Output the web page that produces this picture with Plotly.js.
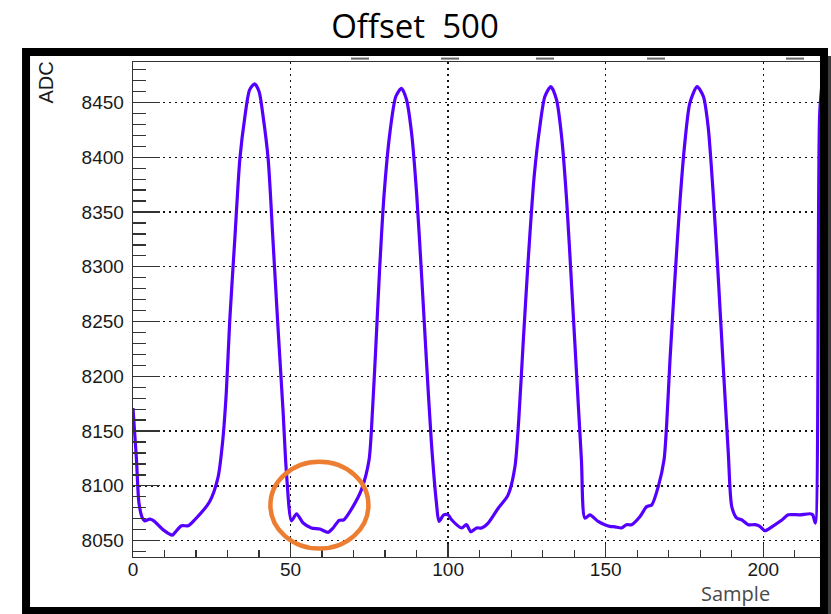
<!DOCTYPE html>
<html>
<head>
<meta charset="utf-8">
<script src="https://cdn.plot.ly/plotly-3.0.1.min.js"></script>
<style>html,body{margin:0;padding:0;background:#fff;}#chart{width:831px;height:614px;}</style>
</head>
<body>
<div id="chart"></div>
<script>
// Waveform samples
const sampleX = [0, 1.1, 1.9, 3.0, 3.7, 5.3, 6.6, 9.5, 12.5, 13.2, 15.4, 17.5, 19.6, 24.3, 27.0, 28.4, 29.6, 30.7, 32.3, 33.9, 35.5, 37.0, 38.6, 40.0, 41.3, 42.9, 44.4, 46.0, 47.6, 48.7, 50.3, 51.9, 54.0, 56.6, 59.3, 61.9, 63.5, 65.4, 66.9, 69.8, 72.5, 74.9, 76.0, 77.0, 78.3, 79.7, 81.5, 83.4, 85.2, 86.8, 88.4, 90.0, 91.6, 93.1, 94.7, 96.3, 97.1, 98.6, 100.0, 101.1, 104.3, 105.8, 107.2, 109.0, 110.6, 112.7, 115.9, 119.0, 121.2, 122.4, 123.8, 125.4, 127.3, 129.1, 130.7, 132.6, 134.4, 136.0, 137.6, 139.2, 140.8, 142.3, 143.4, 145.0, 147.6, 149.7, 151.3, 153.0, 155.0, 156.6, 158.2, 160.9, 163.0, 164.6, 166.7, 168.5, 169.3, 170.4, 172.0, 173.6, 175.1, 176.7, 179.0, 181.0, 182.5, 184.1, 185.7, 187.3, 188.9, 190.0, 191.6, 193.1, 195.2, 197.4, 198.9, 200.5, 203.2, 205.8, 207.9, 211.6, 214.8, 215.7, 216.5, 217.9, 218.9];
const adcY = [8171, 8124, 8084, 8070.5, 8068, 8069.5, 8068, 8060, 8055, 8057, 8063.5, 8063.5, 8069, 8085.5, 8108, 8139, 8185, 8251, 8325, 8398, 8437, 8461.5, 8467, 8460, 8437, 8398, 8325, 8245, 8169, 8111.5, 8068, 8074.5, 8066, 8061.5, 8060.5, 8057.5, 8061.5, 8068.5, 8069, 8081, 8096.5, 8123.5, 8169, 8224, 8300, 8367, 8422, 8455.5, 8463, 8452.5, 8422, 8367, 8291, 8215, 8139, 8084, 8067.5, 8073.5, 8073.5, 8069, 8061.5, 8064.5, 8058, 8061.5, 8061.5, 8066, 8079.5, 8091.5, 8117.5, 8160, 8230, 8306, 8382.5, 8428, 8455.5, 8464.5, 8452.5, 8419, 8361, 8282, 8200, 8123.5, 8070.5, 8073.5, 8067.5, 8064.5, 8063, 8062.5, 8061.5, 8064.5, 8064.5, 8072, 8081, 8082.5, 8099.5, 8123.5, 8154, 8215, 8291, 8361, 8413, 8449.5, 8464.5, 8455.5, 8428, 8367, 8291, 8209, 8130, 8081, 8070.5, 8069, 8064.5, 8064.5, 8063, 8059, 8063.5, 8068.5, 8073.5, 8073.5, 8074.5, 8073.5, 8066, 8440, 8475];

const yTickVals = [8050, 8100, 8150, 8200, 8250, 8300, 8350, 8400, 8450];
const yTickText = ['8050', '8100', '8150', '8200', '8250', '8300', '8350', '8400', '8450'];
const xTickVals = [0, 50, 100, 150, 200];
const xTickText = ['0', '50', '100', '150', '200'];

const titleText = 'Offset\u00a0\u00a0500';
const xLabel = 'Sample';
const yLabel = 'ADC';

// highlight ellipse bounds (data units)
const ringX = [43.6, 74.7];
const ringY = [8042.7, 8121.9];

// small dash marks above the frame (paper x pairs)
const topDashes = [[0.3173, 0.3435], [0.4483, 0.4745], [0.5866, 0.6128], [0.7482, 0.7744], [0.9505, 0.9767]];

const trace = {
  x: sampleX, y: adcY, type: 'scatter', mode: 'lines',
  line: {color: '#5500ff', width: 3.2, shape: 'spline', smoothing: 0.7},
  cliponaxis: true, hoverinfo: 'x+y'
};

const axisFont = {family: 'Liberation Sans, Arial, sans-serif', size: 19, color: '#1a1a1a'};

const shapes = [
  {type: 'circle', xref: 'x', yref: 'y', x0: ringX[0], x1: ringX[1], y0: ringY[0], y1: ringY[1],
   line: {color: '#ed7d31', width: 4.5}, layer: 'above'},
  {type: 'rect', xref: 'paper', yref: 'paper', x0: -0.1557, x1: 1.0058, y0: -0.1091, y1: 1.0202,
   line: {color: '#000', width: 8}, fillcolor: 'rgba(0,0,0,0)', layer: 'above'},
  {type: 'rect', xref: 'paper', yref: 'paper', x0: 1.0116, x1: 1.02, y0: -0.12, y1: 1.012,
   line: {width: 0}, fillcolor: '#3c3c3c', layer: 'above'}
];
topDashes.forEach(d => shapes.push({type: 'line', xref: 'paper', yref: 'paper', x0: d[0], x1: d[1], y0: 1.0069, y1: 1.0069,
  line: {color: '#666', width: 2}, layer: 'above'}));

const layout = {
  width: 831, height: 614,
  margin: {l: 133, r: 11, t: 62, b: 57, pad: 0},
  paper_bgcolor: '#fff', plot_bgcolor: '#fff',
  showlegend: false,
  title: {text: titleText, x: 0.4994, xanchor: 'center', xref: 'container', y: 0.9577, yanchor: 'middle', yref: 'container',
          font: {family: 'Open Sans, sans-serif', size: 33, color: '#000'}},
  xaxis: {
    range: [0, 218], tickmode: 'array', tickvals: xTickVals, ticktext: xTickText,
    ticks: 'inside', ticklen: 13, tickwidth: 1.3, tickcolor: '#333',
    showline: true, linecolor: '#333', linewidth: 1.3, mirror: true,
    showgrid: true, gridcolor: '#111', gridwidth: 1.4, griddash: '1.5px,4.5px',
    zeroline: false, tickfont: axisFont, ticklabelstandoff: -5,
    minor: {dtick: 10, tick0: 0, ticks: 'inside', ticklen: 7, tickwidth: 1.3, tickcolor: '#333', showgrid: false}
  },
  yaxis: {
    range: [8035, 8487], tickmode: 'array', tickvals: yTickVals, ticktext: yTickText,
    ticks: 'inside', ticklen: 27, tickwidth: 1.3, tickcolor: '#333',
    showline: true, linecolor: '#333', linewidth: 1.3, mirror: true,
    showgrid: true, gridcolor: '#111', gridwidth: 1.4, griddash: '1.5px,4.5px',
    zeroline: false, tickfont: axisFont, ticklabelstandoff: 4,
    minor: {dtick: 10, tick0: 8000, ticks: 'inside', ticklen: 13, tickwidth: 1.3, tickcolor: '#333', showgrid: false}
  },
  shapes: shapes,
  annotations: [
    {text: xLabel, xref: 'paper', yref: 'paper', x: 0.877, y: -0.0747, xanchor: 'center', yanchor: 'middle',
     showarrow: false, font: {family: 'Open Sans, sans-serif', size: 20, color: '#4a4a4a'}},
    {text: yLabel, xref: 'paper', yref: 'paper', x: -0.1252, y: 0.9586, xanchor: 'center', yanchor: 'middle',
     textangle: -90, showarrow: false, font: {family: 'Liberation Sans, Arial, sans-serif', size: 20, color: '#1a1a1a'}}
  ]
};

Plotly.newPlot('chart', [trace], layout, {displayModeBar: false, staticPlot: true});
</script>
</body>
</html>
